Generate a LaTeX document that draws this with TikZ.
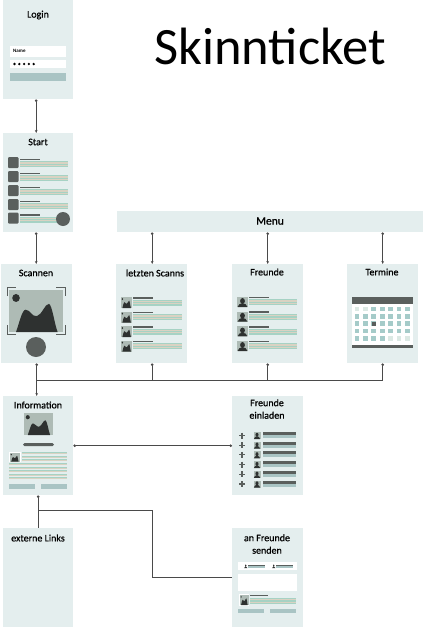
\documentclass[tikz,border=0pt]{standalone}
\usepackage{fontspec}
\setmainfont{Carlito}
\newfontfamily\labfont[FakeBold=0.7]{Carlito}
\usetikzlibrary{arrows.meta}
\definecolor{panelc}{HTML}{E4EEEE}
\definecolor{darkc}{HTML}{5A5F5D}
\definecolor{blackc}{HTML}{2E3130}
\definecolor{tealc}{HTML}{A6D2C4}
\definecolor{peachc}{HTML}{D9D2C2}
\definecolor{btnc}{HTML}{A9C4C4}
\definecolor{imgc}{HTML}{AEBBB5}
\definecolor{linec}{HTML}{4A4A4A}
\definecolor{cellc}{HTML}{A5CBC9}
\definecolor{palec}{HTML}{DCE9E4}
\tikzset{
  x=1pt,y=-1pt,
  panel/.style={fill=panelc,draw=none,inner sep=0pt,minimum width=#1,minimum height=99pt,anchor=north west},
  panel/.default=71pt,
  screenlabel/.style={font=\labfont\fontsize{10}{12.5}\selectfont,text=black,align=center,inner sep=0pt,anchor=center},
  link/.style={draw=linec,line width=0.7pt,{Circle[length=2.6pt,width=2.6pt]}-{Stealth[length=3pt,width=2.6pt]}},
  plainlink/.style={draw=linec,line width=0.7pt},
  dotlink/.style={draw=linec,line width=0.7pt,-{Circle[length=2.6pt,width=2.6pt]}},
  doublelink/.style={draw=linec,line width=0.7pt,{Circle[length=2.6pt,width=2.6pt]}-{Circle[length=2.6pt,width=2.6pt]}}
}
% text row: x, y, width
\newcommand{\txtrow}[3]{%
  \fill[darkc] (#1,#2) rectangle ++(20,1.7);
  \fill[tealc] (#1,#2+2.6) rectangle ++(#3,1.3);
  \fill[peachc] (#1,#2+3.9) rectangle ++(#3,1.2);
  \fill[tealc] (#1,#2+5.1) rectangle ++(#3,1.2);
  \fill[peachc] (#1,#2+6.3) rectangle ++(#3,1);
  \fill[tealc] (#1,#2+7.3) rectangle ++(#3,1.3);
}
% picture thumbnail: x, y, w, h
\newcommand{\mount}[4]{%
  \begin{scope}[shift={(#1,#2)},xscale=#3,yscale=#4]
    \fill[imgc] (0,0) rectangle (1,1);
    \fill[blackc] (0.13,1) .. controls (0.2,0.75) and (0.24,0.47) .. (0.31,0.47)
      .. controls (0.4,0.47) and (0.42,0.65) .. (0.52,0.62)
      .. controls (0.62,0.58) and (0.66,0.33) .. (0.74,0.33)
      .. controls (0.8,0.36) and (0.84,0.8) .. (0.9,1) -- cycle;
    \fill[blackc] (0.13,0.19) ellipse (0.07 and 0.095);
  \end{scope}}
% person thumbnail: x, y, w, h, background
\newcommand{\person}[5]{%
  \begin{scope}[shift={(#1,#2)},xscale=#3,yscale=#4]
    \fill[#5] (0,0) rectangle (1,1);
    \fill[blackc] (0.5,0.4) ellipse (0.22 and 0.29);
    \fill[blackc] (0.05,1) .. controls (0.1,0.7) and (0.3,0.68) .. (0.5,0.62)
      .. controls (0.7,0.68) and (0.9,0.7) .. (0.95,1) -- cycle;
  \end{scope}}
\begin{document}
\begin{tikzpicture}
\useasboundingbox (0,0) rectangle (423,627);
\fill[white] (0,0) rectangle (423,627);

% panels
\node[panel=70pt] (login) at (3,0) {};
\node[panel=70pt] (start) at (3,133) {};
\node[panel] (scan) at (1,264) {};
\node[panel] (last) at (116,264) {};
\node[panel] (friends) at (232,264) {};
\node[panel] (dates) at (347,264) {};
\node[panel=70pt] (info) at (3,396) {};
\node[panel] (invite) at (232,396) {};
\node[panel=70pt] (ext) at (3,528) {};
\node[panel] (send) at (232,528) {};
\node[fill=panelc,inner sep=0pt,minimum width=306pt,minimum height=21pt,anchor=north west] (menu) at (117,211) {};

% labels
\node[inner sep=0pt,font=\fontsize{52.5}{56}\selectfont] (title) at (270,46.5) {Skinnticket};
\node[screenlabel] (tlogin) at (38,15) {Login};
\node[screenlabel] (tstart) at (38,142) {Start};
\node[screenlabel] (tscan) at (36,273) {Scannen};
\node[screenlabel] (tlast) at (155,273) {letzten Scanns};
\node[screenlabel] (tfriends) at (267,272) {Freunde};
\node[screenlabel] (tdates) at (382,272) {Termine};
\node[screenlabel] (tinfo) at (38,405) {Information};
\node[screenlabel] (tinvite) at (267,409) {Freunde\\einladen};
\node[screenlabel] (text) at (38,538) {externe Links};
\node[screenlabel] (tsend) at (267,544) {an Freunde\\senden};
\node[screenlabel,font=\labfont\fontsize{11.5}{13}\selectfont] (tmenu) at (270,221) {Menu};

% login content
\fill[white] (10,46) rectangle (66,56.5);
\fill[white] (10,60) rectangle (66,68);
\fill[btnc] (10,73) rectangle (66,81);
\node[inner sep=0pt,anchor=west,font=\fontsize{5}{6}\selectfont\bfseries] (tname) at (13,50.5) {Name};
\foreach \i in {0,...,4} \fill[black] (14.5+\i*4.8,64) circle (1.3);

% start content
\foreach \yy in {157,171,185,199,212.5} {
  \fill[darkc,rounded corners=1pt] (8,\yy) rectangle ++(10.5,11);
  \txtrow{20}{\yy+1.5}{48}
}
\fill[darkc] (63,219) circle (7);

% scan content
\mount{9}{290}{54}{42}
\begin{scope}[draw=darkc,line width=0.7pt]
  \draw (7,296) -- (7,287.5) -- (16,287.5);
  \draw (56,287.5) -- (65.5,287.5) -- (65.5,296);
  \draw (7,325) -- (7,334.5) -- (16,334.5);
  \draw (56,334.5) -- (65.5,334.5) -- (65.5,325);
\end{scope}
\fill[darkc] (36,347) circle (10);

% last scans
\foreach \yy in {297,311.5,326,340.5} {
  \mount{121}{\yy}{11}{11}
  \txtrow{133}{\yy}{49}
}

% friends
\foreach \yy in {297,311.7,326.4,341} {
  \person{237}{\yy}{11}{10}{imgc}
  \txtrow{249}{\yy-0.5}{48}
}

% calendar
\fill[white] (352,303) rectangle (413,346);
\fill[darkc] (352,297) rectangle (413,303.5);
\fill[darkc] (352,345) rectangle (413,348);
\foreach \r in {0,...,4} \foreach \c in {0,...,6} {
  \pgfmathsetmacro{\cx}{357+\c*8.4}
  \pgfmathsetmacro{\cy}{309+\r*7.3}
  \fill[cellc] (\cx-2.4,\cy-2.4) rectangle ++(4.8,4.8);
}
\foreach \r/\c in {0/0,0/1,4/4,4/5,4/6} {
  \pgfmathsetmacro{\cx}{357+\c*8.4}
  \pgfmathsetmacro{\cy}{309+\r*7.3}
  \fill[palec] (\cx-2.4,\cy-2.4) rectangle ++(4.8,4.8);
}
\fill[darkc] (374,324) ++(-2.4,-2.4) rectangle ++(4.8,4.8);

% information
\mount{24}{413}{29}{22}
\fill[darkc,rounded corners=1.5pt] (23,443) rectangle (54,446);
\fill[white] (9,452) rectangle (21,462);
\mount{10}{453}{9.5}{8.5}
\foreach \yy in {452,455.5,459} {
  \fill[tealc] (22,\yy) rectangle (67,\yy+1.3);
  \fill[peachc] (22,\yy+1.3) rectangle (67,\yy+2.3);
}
\foreach \yy in {463,466.5,470,473.5,477} {
  \fill[tealc] (9,\yy) rectangle (67,\yy+1.3);
  \fill[peachc] (9,\yy+1.3) rectangle (67,\yy+2.3);
}
\fill[btnc] (9,484) rectangle (35,488.5);
\fill[btnc] (41,484) rectangle (67,488.5);

% invite
\foreach \i in {0,...,5} {
  \pgfmathsetmacro{\yy}{435.5+\i*9.7}
  \draw[darkc,line width=1.1pt] (239,\yy) -- (245,\yy) (242,\yy-3) -- (242,\yy+3);
  \person{253.5}{\yy-3.5}{7}{7}{imgc}
  \fill[darkc] (263,\yy-3.5) rectangle (296,\yy-0.5);
  \fill[btnc] (263,\yy-0.5) rectangle (296,\yy+2.5);
}

% send
\fill[white] (238,562) rectangle (297,570);
\fill[white] (238,574) rectangle (297,591);
\person{244}{564}{3.5}{4}{white}
\person{272}{564}{3.5}{4}{white}
\fill[darkc] (248,565) rectangle (265,566);
\fill[btnc] (248,566) rectangle (265,568);
\fill[darkc] (276,565) rectangle (293,566);
\fill[btnc] (276,566) rectangle (293,568);
\fill[white] (239,594) rectangle (249,606);
\mount{240}{595}{8.5}{10}
\fill[darkc] (250,595) rectangle (268,596.2);
\fill[tealc] (250,598) rectangle (296,599.2);
\fill[peachc] (250,599.2) rectangle (296,600.4);
\fill[tealc] (250,600.4) rectangle (296,601.6);
\fill[peachc] (250,601.6) rectangle (296,602.8);
\fill[tealc] (250,602.8) rectangle (296,604);
\fill[btnc] (238,609) rectangle (264,613);
\fill[btnc] (270,609) rectangle (296,613);

% connectors
\draw[link] ([xshift=-2pt]login.south) -- ([xshift=-2pt]start.north);
\draw[link] ([xshift=-2pt]start.south) -- ([xshift=-2pt]start.south |- scan.north);
\draw[link] (menu.south -| last.south) ++(0.5,0) coordinate (m1) -- (m1 |- last.north);
\draw[link] (menu.south -| friends.south) coordinate (m2) -- (friends.north);
\draw[link] (menu.south -| dates.south) coordinate (m3) -- (dates.north);

\coordinate (bus) at ([yshift=-17pt]scan.south);
\draw[dotlink] (scan.south |- bus) -- (scan.south);
\draw[plainlink] (scan.south |- bus) -- (dates.south |- bus);
\draw[plainlink,-{Stealth[length=3pt,width=2.6pt]}] (scan.south |- bus) -- (scan.south |- info.north);
\draw[dotlink] (last.south |- bus) ++(0.5,0) coordinate (b1) -- (b1 |- last.south);
\draw[dotlink] (friends.south |- bus) -- (friends.south);
\draw[dotlink] (dates.south |- bus) -- (dates.south);

\draw[doublelink] (info.east) -- (invite.west);

\coordinate (bend) at (38,510);
\coordinate (bendb) at (152.5,510);
\coordinate (bendc) at (152.5,577);
\draw[dotlink] (info.south |- bend) -- (info.south);
\draw[plainlink] (info.south |- bend) -- (ext.north);
\draw[plainlink] (bend) -- (bendb) -- (bendc) -- (bendc -| send.west);
\end{tikzpicture}
\end{document}
